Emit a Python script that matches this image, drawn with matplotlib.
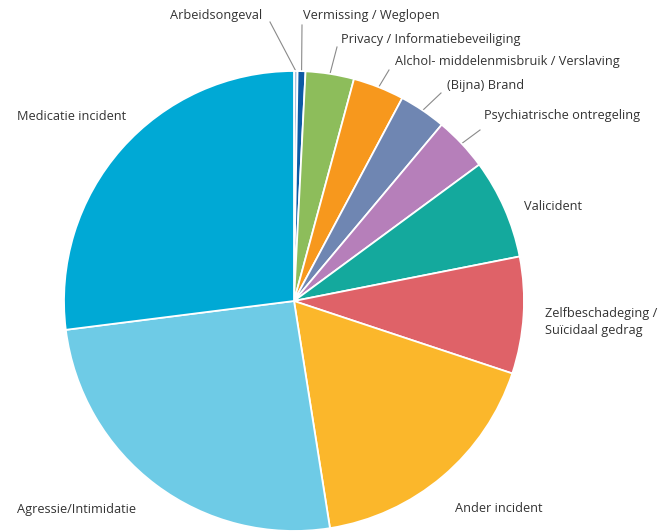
import numpy as np
import matplotlib
matplotlib.use("Agg")
import matplotlib.pyplot as plt

categories = ["Arbeidsongeval", "Vermissing / Weglopen", "Privacy / Informatiebeveiliging",
              "Alchol- middelenmisbruik / Verslaving", "(Bijna) Brand", "Psychiatrische ontregeling",
              "Valicident", "Zelfbeschadeging /\nSuïcidaal gedrag", "Ander incident",
              "Agressie/Intimidatie", "Medicatie incident"]
values = [0.25, 0.55, 3.4, 3.6, 3.3, 3.8, 7.0, 8.2, 17.4, 25.5, 27.0]
colors = ["#a8c3df", "#0c5aa4", "#8dbd5b", "#f7981d", "#6f86b2", "#b67fba",
          "#14a99d", "#df6268", "#fbb72b", "#6ecbe6", "#00a9d5"]

W, H = 671, 531
fig = plt.figure(figsize=(W / 100, H / 100), dpi=100)
ax = fig.add_axes([0, 0, 1, 1])
ax.set_xlim(0, W)
ax.set_ylim(0, H)
ax.set_aspect("equal")
ax.axis("off")

cx, cy, R = 294, H - 301, 230
wedges, _ = ax.pie(values, colors=colors, startangle=90, counterclock=False,
                   center=(cx, cy), radius=R, frame=True,
                   wedgeprops=dict(edgecolor="white", linewidth=1.3))
ax.set_xlim(0, W)
ax.set_ylim(0, H)
ax.axis("off")

font = dict(family=["Open Sans", "DejaVu Sans"], fontsize=9.2, color="#333333")

# label layout: (text x, text y in px from top, ha, leader end x, leader end y px)
layout = [
    (262, 16, "right", 270, 22),
    (303, 16, "left", 302, 25),
    (341, 39, "left", 337, 47),
    (395, 62, "left", 389, 70),
    (447, 86, "left", 441, 93),
    (484, 116, "left", 480, 130),
    (524, 206, "left", None, None),
    (545, 322, "left", None, None),
    (455, 509, "left", None, None),
    (17, 509, "left", None, None),
    (17, 116, "left", None, None),
]

for w, lab, (tx, ty, ha, lx, ly) in zip(wedges, categories, layout):
    ax.text(tx, H - ty, lab, ha=ha, va="center", linespacing=1.45, **font)
    if lx is not None:
        mid = np.deg2rad((w.theta1 + w.theta2) / 2)
        sx, sy = cx + R * np.cos(mid), cy + R * np.sin(mid)
        ax.plot([sx, lx], [sy, H - ly], color="#8a8a8a", lw=0.8, zorder=0)

fig.savefig("out.png", dpi=100)
